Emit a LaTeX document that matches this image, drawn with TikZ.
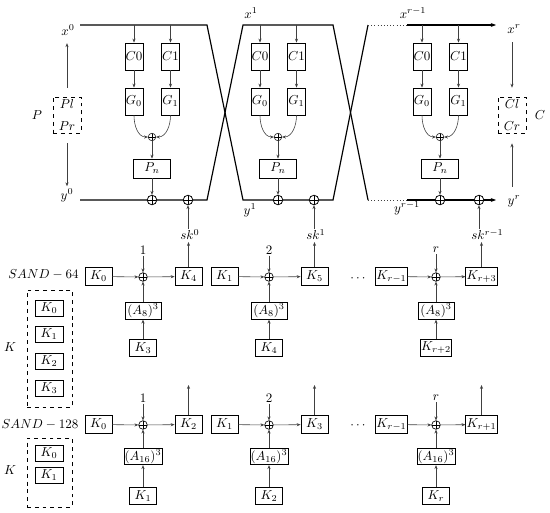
\documentclass[tikz,border=0pt]{standalone}
\usetikzlibrary{arrows.meta}
\begin{document}
\begin{tikzpicture}[x=0.77pt,y=-0.77pt,
  bx/.style={draw, line width=0.7pt, fill=white, inner sep=0.5pt},
  cbox/.style={bx, minimum width=13.9pt, minimum height=20.8pt},
  pbox/.style={bx, minimum width=28.5pt, minimum height=14.6pt},
  kbox/.style={bx, minimum width=20.8pt, minimum height=13.4pt},
  abox/.style={bx, minimum width=27.7pt, minimum height=12.6pt},
  lkbox/.style={bx, minimum width=21.6pt, minimum height=12.3pt},
  dbox/.style={draw, dashed, line width=0.6pt, inner sep=0pt},
  xorbase/.style={circle, draw, fill=white, inner sep=0pt, minimum size=6.8pt,
    path picture={\draw (path picture bounding box.north) -- (path picture bounding box.south)
      (path picture bounding box.west) -- (path picture bounding box.east);}},
  bxor/.style={xorbase, line width=0.6pt, minimum size=7.4pt},
  sxor/.style={xorbase, line width=0.4pt, minimum size=5.8pt},
  rxor/.style={xorbase, line width=0.5pt, minimum size=6.6pt},
  mainln/.style={line width=0.9pt},
  tarr/.style={line width=0.45pt, draw=black!75, -{Stealth[length=3pt,width=2.4pt]}},
  dotln/.style={line width=0.45pt, draw=black!75, dotted},
  lbl/.style={inner sep=1pt}
]
\useasboundingbox (0,0) rectangle (550,512);

% ---------- main crossing lines ----------
\coordinate (a0) at (80,25);  \coordinate (a1) at (207,25);
\coordinate (a2) at (243,200); \coordinate (a3) at (333,200);
\coordinate (a4) at (368,25);  \coordinate (a5) at (407,25);
\coordinate (a6) at (496,25);
\coordinate (b0) at (80,200);  \coordinate (b1) at (207,200);
\coordinate (b2) at (243,25);  \coordinate (b3) at (333,25);
\coordinate (b4) at (368,200); \coordinate (b5) at (407,200);
\coordinate (b6) at (496,200);
\draw[mainln] (a0) -- (a1) -- (a2) -- (a3) -- (a4);
\draw[dotln] (a4) -- (a5);
\draw[mainln, -{Stealth[length=4pt,width=3pt]}] (a5) -- (a6);
\draw[mainln] (b0) -- (b1) -- (b2) -- (b3) -- (b4);
\draw[dotln] (b4) -- (b5);
\draw[mainln, -{Stealth[length=4pt,width=3pt]}] (b5) -- (b6);

% ---------- round blocks ----------
\foreach \i/\cx/\dk/\skl in {1/152/36/{sk^0}, 2/278/36/{sk^1}, 3/440/39/{sk^{r-1}}} {
  \node[cbox] (C0-\i) at (\cx-18,56.5) {$C0$};
  \node[cbox] (C1-\i) at (\cx+18.5,56.5) {$C1$};
  \node[cbox] (G0-\i) at (\cx-18,101.5) {$G_0$};
  \node[cbox] (G1-\i) at (\cx+18.5,101.5) {$G_1$};
  \node[sxor] (s-\i) at (\cx,137) {};
  \node[pbox] (P-\i) at (\cx,168.5) {$P_n$};
  \node[bxor] (b-\i) at (\cx,200) {};
  \node[bxor] (k-\i) at (\cx+\dk,200) {};
  \node[lbl, anchor=north west, inner sep=0pt] (sk-\i) at (\cx+\dk-8,229) {$\skl$};
  \coordinate (t0-\i) at (\cx-18,25);
  \coordinate (t1-\i) at (\cx+18.5,25);
  \draw[tarr] (t0-\i) -- (C0-\i);
  \draw[tarr] (t1-\i) -- (C1-\i);
  \draw[tarr] (C0-\i) -- (G0-\i);
  \draw[tarr] (C1-\i) -- (G1-\i);
  \draw[tarr] (G0-\i.south) to[out=-90,in=180] (s-\i.west);
  \draw[tarr] (G1-\i.south) to[out=-90,in=0] (s-\i.east);
  \draw[tarr] (s-\i) -- (P-\i);
  \draw[tarr] (P-\i) -- (b-\i);
  \draw[tarr] (k-\i |- sk-\i.north) -- (k-\i);
}

% ---------- labels of the top part ----------
\node[lbl] (x0) at (68,30) {$x^0$};
\node[lbl] (y0) at (67,195) {$y^0$};
\node[lbl] (x1) at (251,13) {$x^1$};
\node[lbl] (y1) at (250,210) {$y^1$};
\node[lbl] (xr1) at (413,13) {$x^{r-1}$};
\node[lbl] (yr1) at (407,208) {$y^{r-1}$};
\node[lbl] (xr) at (514,29) {$x^r$};
\node[lbl] (yr) at (514,201) {$y^r$};

\node[dbox, minimum width=21.6pt, minimum height=27.7pt] (Pbox) at (67,115) {};
\node[lbl] (Pl) at (67,104) {$Pl$};
\node[lbl] (Pr) at (67,126) {$Pr$};
\node[lbl] (Plab) at (37,115) {$P$};
\node[dbox, minimum width=21.6pt, minimum height=27.7pt] (Cbox) at (512,115) {};
\node[lbl] (Cl) at (512,104) {$Cl$};
\node[lbl] (Cr) at (512,126) {$Cr$};
\node[lbl] (Clab) at (540,115) {$C$};

\draw[tarr, shorten <=6.9pt, shorten >=4.9pt] (Pbox.north) -- (Pbox.north |- x0.south);
\draw[tarr, shorten <=7.7pt, shorten >=0.5pt] (Pbox.south) -- (Pbox.south |- y0.north);
\draw[tarr, shorten <=5.6pt, shorten >=6.9pt] (Cbox.north |- xr.south) -- (Cbox.north);
\draw[tarr, shorten <=5.4pt, shorten >=7.7pt] (Cbox.south |- yr.north) -- (Cbox.south);

% ---------- SAND-64 key schedule ----------
\node[lbl] (sand64) at (43.5,275) {$SAND-64$};
\foreach \j/\cx/\kl/\kr/\kb/\rl in {1/143/K_0/K_4/K_3/1, 2/269/K_1/K_5/K_4/2, 3/436/{K_{r-1}}/{K_{r+3}}/{K_{r+2}}/r} {
  \node[kbox] (L1-\j) at (\cx-44.5,276.5) {$\kl$};
  \node[rxor] (X1-\j) at (\cx,277) {};
  \node[kbox] (R1-\j) at (\cx+45.5,276.5) {$\kr$};
  \node[abox] (A1-\j) at (\cx,311) {$(A_8)^3$};
  \node[kbox] (B1-\j) at (\cx,348) {$\kb$};
  \node[lbl] (N1-\j) at (\cx,250) {$\rl$};
  \draw[tarr] (L1-\j) -- (X1-\j);
  \draw[tarr] (X1-\j) -- (R1-\j);
  \draw[tarr] (N1-\j) -- (X1-\j);
  \draw[tarr] (B1-\j) -- (A1-\j);
  \draw[tarr] (A1-\j) -- (X1-\j);
  \draw[tarr, shorten >=1.5pt] (R1-\j) -- (R1-\j |- sk-\j.south);
}
\node[lbl] (dots1) at (358,279) {$\cdots$};

\node[dbox, minimum width=34.65pt, minimum height=90.1pt] (K64) at (49.5,348.5) {};
\node[lkbox] (K64-0) at (49,308.5) {$K_0$};
\node[lkbox] (K64-1) at (49,334) {$K_1$};
\node[lkbox] (K64-2) at (49,361) {$K_2$};
\node[lkbox] (K64-3) at (49,388) {$K_3$};
\node[lbl] (K64lab) at (10,347) {$K$};

% ---------- SAND-128 key schedule ----------
\node[lbl] (sand128) at (40,425) {$SAND-128$};
\foreach \j/\cx/\kl/\kr/\kb/\rl in {1/143/K_0/K_2/K_1/1, 2/269/K_1/K_3/K_2/2, 3/436/{K_{r-1}}/{K_{r+1}}/{K_r}/r} {
  \node[kbox] (L2-\j) at (\cx-44.5,424.5) {$\kl$};
  \node[rxor] (X2-\j) at (\cx,425) {};
  \node[kbox] (R2-\j) at (\cx+45.5,424.5) {$\kr$};
  \node[abox] (A2-\j) at (\cx,456.5) {$(A_{16})^3$};
  \node[kbox] (B2-\j) at (\cx,496) {$\kb$};
  \node[lbl] (N2-\j) at (\cx,398) {$\rl$};
  \coordinate (U2-\j) at (\cx+45.5,385);
  \draw[tarr] (L2-\j) -- (X2-\j);
  \draw[tarr] (X2-\j) -- (R2-\j);
  \draw[tarr] (N2-\j) -- (X2-\j);
  \draw[tarr] (B2-\j) -- (A2-\j);
  \draw[tarr] (A2-\j) -- (X2-\j);
  \draw[tarr] (R2-\j) -- (U2-\j);
}
\node[lbl] (dots2) at (358,426) {$\cdots$};

\node[dbox, minimum width=34.65pt, minimum height=53.1pt] (K128) at (49.5,472.5) {};
\node[lkbox] (K128-0) at (49,453.5) {$K_0$};
\node[lkbox] (K128-1) at (49,475) {$K_1$};
\node[lbl] (K128lab) at (10,470) {$K$};
\end{tikzpicture}
\end{document}
